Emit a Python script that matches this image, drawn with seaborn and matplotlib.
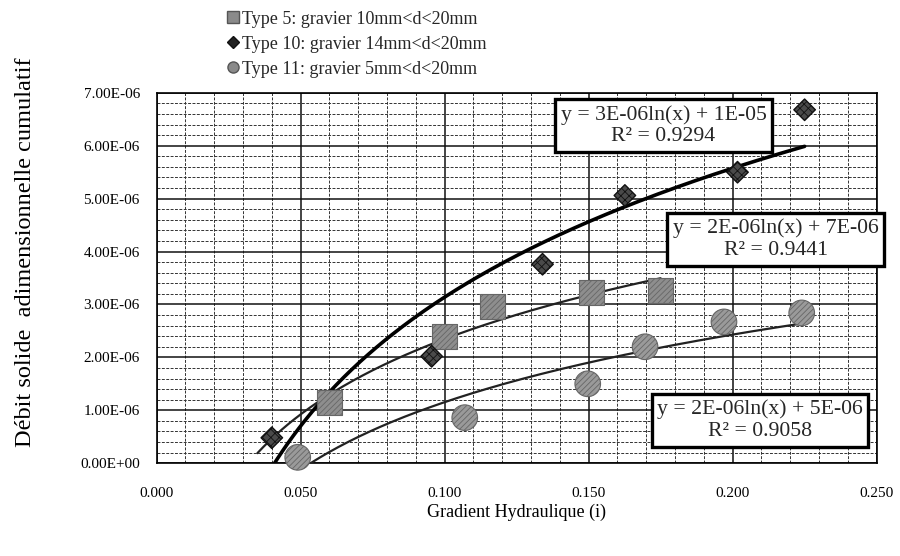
import numpy as np
import pandas as pd
import matplotlib
matplotlib.use("Agg")
import matplotlib.pyplot as plt
import seaborn as sns
from matplotlib.ticker import MultipleLocator, FuncFormatter
from matplotlib.lines import Line2D

sns.set_theme(style="white")
plt.rcParams['font.family'] = ['Liberation Serif', 'DejaVu Serif']
plt.rcParams['hatch.color'] = '#555555'
plt.rcParams['hatch.linewidth'] = 0.6

# Data
t5_x = [0.060, 0.100, 0.1165, 0.151, 0.175]
t5_y = [1.15e-6, 2.40e-6, 2.96e-6, 3.22e-6, 3.26e-6]
t10_x = [0.040, 0.0955, 0.134, 0.1626, 0.2017, 0.225]
t10_y = [0.48e-6, 2.02e-6, 3.76e-6, 5.06e-6, 5.50e-6, 6.68e-6]
t11_x = [0.049, 0.107, 0.1497, 0.1696, 0.197, 0.224]
t11_y = [0.11e-6, 0.86e-6, 1.50e-6, 2.20e-6, 2.67e-6, 2.84e-6]

labels = ["Type 5: gravier 10mm<d<20mm",
          "Type 10: gravier 14mm<d<20mm",
          "Type 11: gravier 5mm<d<20mm"]
equations = ["y = 3E-06ln(x) + 1E-05\nR² = 0.9294",
             "y = 2E-06ln(x) + 7E-06\nR² = 0.9441",
             "y = 2E-06ln(x) + 5E-06\nR² = 0.9058"]
# trendline ranges (type 5 has a backward forecast)
t5_range = [0.035, 0.175]
t10_range = [0.040, 0.225]
t11_range = [0.049, 0.224]

fig = plt.figure(figsize=(9, 5.56), dpi=100)
ax = fig.add_axes([0.174, 0.167, 0.800, 0.666])

def logfit(xs, ys, rng):
    a, b = np.polyfit(np.log(xs), ys, 1)
    xx = np.linspace(rng[0], rng[1], 200)
    return pd.DataFrame({"x": xx, "y": a * np.log(xx) + b})

fit10 = logfit(t10_x, t10_y, t10_range)
fit5 = logfit(t5_x, t5_y, t5_range)
fit11 = logfit(t11_x, t11_y, t11_range)

sns.lineplot(data=fit10, x="x", y="y", ax=ax, color="black", lw=2.6, sort=False, estimator=None, zorder=3)
sns.lineplot(data=fit5, x="x", y="y", ax=ax, color="#222222", lw=1.6, sort=False, estimator=None, zorder=3)
sns.lineplot(data=fit11, x="x", y="y", ax=ax, color="#222222", lw=1.6, sort=False, estimator=None, zorder=3)

df5 = pd.DataFrame({"x": t5_x, "y": t5_y})
df10 = pd.DataFrame({"x": t10_x, "y": t10_y})
df11 = pd.DataFrame({"x": t11_x, "y": t11_y})

sns.scatterplot(data=df5, x="x", y="y", ax=ax, marker="s", s=320, color="#8e8e8e",
                edgecolor="#666666", linewidth=0.8, zorder=4)
ax.collections[-1].set_hatch("//////")
sns.scatterplot(data=df10, x="x", y="y", ax=ax, marker="D", s=120, color="#4a4a4a",
                edgecolor="#111111", linewidth=1.0, zorder=4)
ax.collections[-1].set_hatch("xxxx")
sns.scatterplot(data=df11, x="x", y="y", ax=ax, marker="o", s=340, color="#9a9a9a",
                edgecolor="#666666", linewidth=0.8, zorder=4, clip_on=False)
ax.collections[-1].set_hatch("//////")

ax.set_xlim(0, 0.25)
ax.set_ylim(0, 7e-6)
ax.xaxis.set_major_locator(MultipleLocator(0.05))
ax.xaxis.set_minor_locator(MultipleLocator(0.01))
ax.yaxis.set_major_locator(MultipleLocator(1e-6))
ax.yaxis.set_minor_locator(MultipleLocator(2e-7))
ax.xaxis.set_major_formatter(FuncFormatter(lambda v, p: f"{v:.3f}"))
ax.yaxis.set_major_formatter(FuncFormatter(lambda v, p: format(v, ".2E")))
ax.grid(True, which="major", color="#111111", lw=1.1, ls="-")
ax.grid(True, which="minor", color="#333333", lw=0.7, ls=(0, (3, 1.5)))
ax.set_axisbelow(True)
ax.tick_params(axis="both", which="both", length=0, labelsize=11, colors="black")
ax.tick_params(axis="x", pad=17)
ax.tick_params(axis="y", pad=12)
for sp in ax.spines.values():
    sp.set_visible(True)
    sp.set_color("black")
    sp.set_linewidth(1.2)

ax.set_xlabel("Gradient Hydraulique (i)", fontsize=13, labelpad=3, color="black")
ax.set_ylabel("Débit solide  adimensionnelle cumulatif", fontsize=17.5, color="black")
ax.yaxis.set_label_coords(-0.168, 0.57)

box = dict(boxstyle="square,pad=0.25", fc="white", ec="black", lw=2.4)
kw = dict(ha="center", va="center", fontsize=15.7, bbox=box, zorder=6, linespacing=1.2)
ax.text(0.176, 6.38e-6, equations[0], **kw)
ax.text(0.215, 4.23e-6, equations[1], **kw)
ax.text(0.2095, 0.81e-6, equations[2], **kw)

handles = [
    Line2D([], [], marker="s", ls="", ms=8, mfc="#8a8a8a", mec="#555555"),
    Line2D([], [], marker="D", ls="", ms=6, mfc="#222222", mec="#111111"),
    Line2D([], [], marker="o", ls="", ms=8, mfc="#8a8a8a", mec="#555555"),
]
fig.legend(handles, labels, loc="upper left", bbox_to_anchor=(0.236, 1.007), frameon=False,
           fontsize=13, handlelength=0.7, handletextpad=0.15, labelspacing=0.45, borderpad=0.3)

fig.savefig("out.png", dpi=100)
